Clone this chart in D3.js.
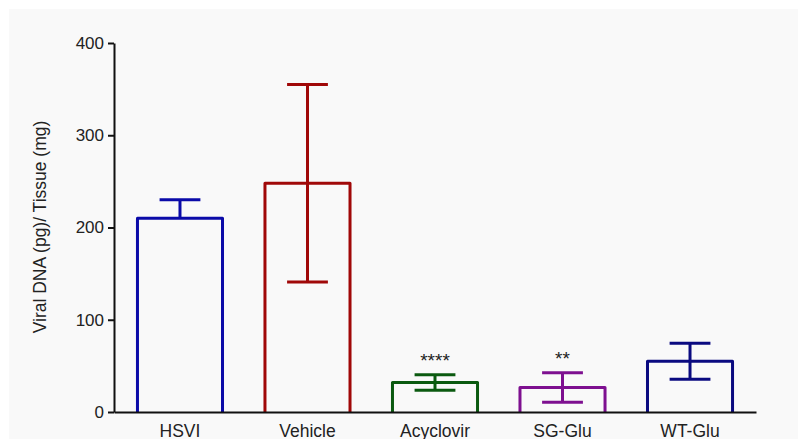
<!DOCTYPE html>
<html>
<head>
<meta charset="utf-8">
<script src="https://cdn.jsdelivr.net/npm/d3@7"></script>
<style>
html,body{margin:0;padding:0;background:#ffffff;}
svg{display:block;}
text{font-family:"Liberation Sans",Arial,sans-serif;}
</style>
</head>
<body>
<svg id="chart" width="798" height="439"></svg>
<script>
const categories = ["HSVI", "Vehicle", "Acyclovir", "SG-Glu", "WT-Glu"];
const means = [210, 248, 32, 26.5, 55];
const errors = [20, 107, 8.5, 16, 19.5];
const errorDown = [false, true, true, true, true];
const significance = ["", "", "****", "**", ""];
const colors = ["#0a0aa8", "#a00808", "#0b5a10", "#7e1090", "#0a0a80"];
const yTicks = [0, 100, 200, 300, 400];
const yLabel = "Viral DNA (pg)/ Tissue (mg)";

const svg = d3.select("#chart");
svg.append("rect").attr("x", 9).attr("y", 9).attr("width", 789).attr("height", 430).attr("fill", "#f9f9f9");

const x = d3.scaleBand().domain(categories).range([114, 756]).paddingInner(0.333).paddingOuter(0.184);
const y = d3.scaleLinear().domain([0, 400]).range([412, 43]);

const data = categories.map((c, i) => ({c, m: means[i], e: errors[i], down: errorDown[i], s: significance[i], col: colors[i]}));

// bars
const g = svg.append("g");
data.forEach(d => {
  const x0 = x(d.c), x1 = x(d.c) + x.bandwidth(), cx = x(d.c) + x.bandwidth() / 2;
  g.append("path")
    .attr("d", `M${x0},${y(0)}V${y(d.m)}H${x1}V${y(0)}`)
    .attr("fill", "none").attr("stroke", d.col).attr("stroke-width", 3).attr("stroke-linejoin", "round");
  const capW = x.bandwidth() * 0.48;
  const top = y(d.m + d.e), bot = d.down ? y(d.m - d.e) : y(d.m);
  g.append("line").attr("x1", cx).attr("x2", cx).attr("y1", top).attr("y2", bot)
    .attr("stroke", d.col).attr("stroke-width", 3);
  g.append("line").attr("x1", cx - capW / 2).attr("x2", cx + capW / 2).attr("y1", top).attr("y2", top)
    .attr("stroke", d.col).attr("stroke-width", 3);
  if (d.down) {
    g.append("line").attr("x1", cx - capW / 2).attr("x2", cx + capW / 2).attr("y1", bot).attr("y2", bot)
      .attr("stroke", d.col).attr("stroke-width", 3);
  }
  if (d.s) {
    g.append("text").attr("x", cx).attr("y", top - 8).attr("text-anchor", "middle")
      .attr("font-size", 19).attr("fill", "#222").text(d.s);
  }
});

// y axis
const ya = svg.append("g").attr("transform", "translate(114,0)")
  .call(d3.axisLeft(y).tickValues(yTicks).tickSize(6).tickSizeOuter(0).tickPadding(4));
ya.select(".domain").attr("stroke", "#111").attr("stroke-width", 2);
ya.selectAll(".tick line").attr("stroke", "#111").attr("stroke-width", 2);
ya.selectAll(".tick text").attr("font-size", 17).attr("fill", "#222")
  .attr("font-family", "'Liberation Sans',Arial,sans-serif");

// x axis
const xa = svg.append("g").attr("transform", `translate(0,${y(0)})`)
  .call(d3.axisBottom(x).tickSize(0).tickSizeOuter(0).tickPadding(13));
xa.select(".domain").attr("stroke", "#111").attr("stroke-width", 2);
xa.selectAll(".tick text").attr("font-size", 17.5).attr("fill", "#222")
  .attr("font-family", "'Liberation Sans',Arial,sans-serif");

// y label
svg.append("text").attr("transform", "translate(46,227) rotate(-90)")
  .attr("text-anchor", "middle").attr("font-size", 17.5).attr("fill", "#222").text(yLabel);
</script>
</body>
</html>
